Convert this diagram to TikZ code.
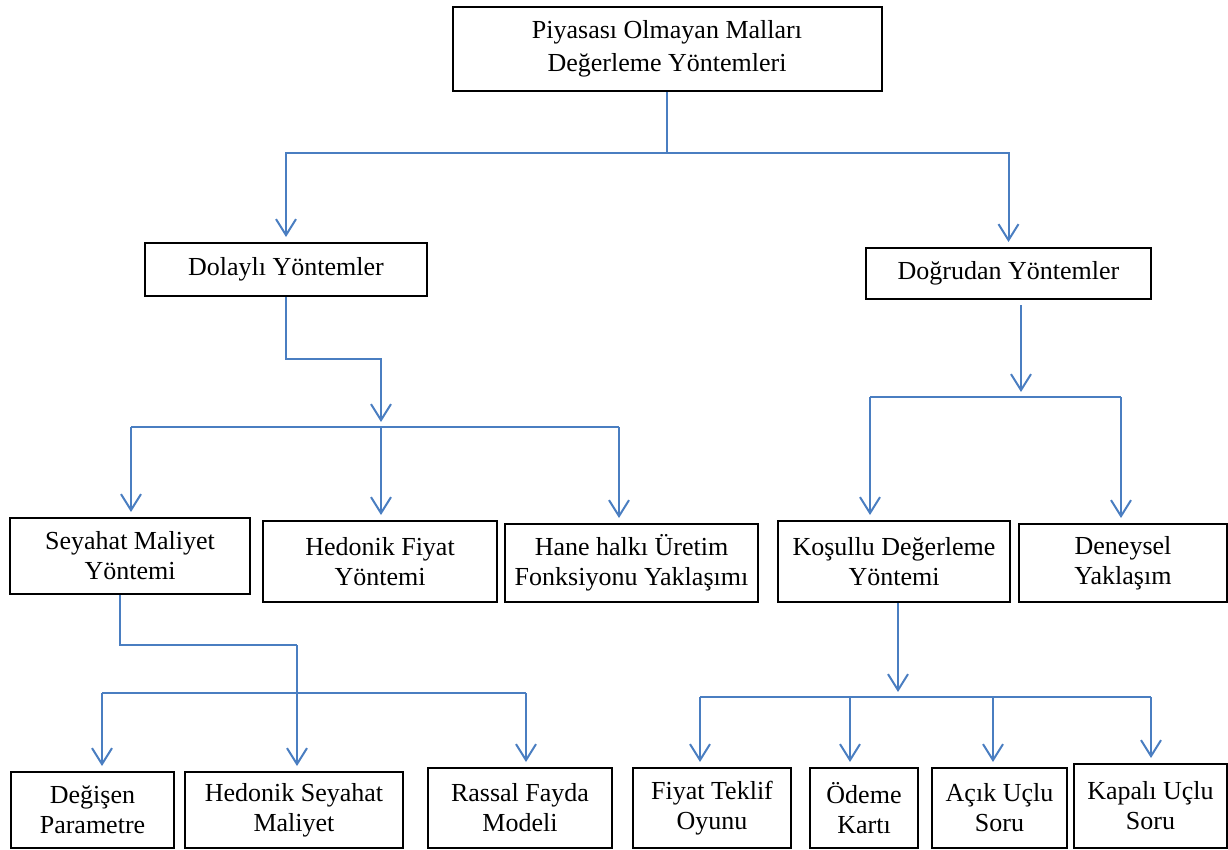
\documentclass[tikz,border=0pt]{standalone}
\usepackage{fontspec}
\setmainfont{Liberation Serif}
\usetikzlibrary{arrows.meta,positioning,calc}
\definecolor{linkblue}{RGB}{74,126,193}

\begin{document}
\begin{tikzpicture}
[x=1pt,y=-1pt,
every node/.style={draw,line width=2pt,align=center,inner sep=0pt,font=\fontsize{26}{30}\selectfont},
link/.style={draw=linkblue,line width=2pt},
arrow/.style={link,-{Straight Barb[length=16pt,width=20pt]},shorten >=5pt}]
\useasboundingbox (0,0) rectangle (1228,849);
\node[minimum width=429pt,minimum height=84pt,font=\fontsize{26}{33}\selectfont] (root) at (667,49) {Piyasası Olmayan Malları\\Değerleme Yöntemleri};
\node[minimum width=282pt,minimum height=53pt] (dolayli) at (286,269.5) {Dolaylı Yöntemler};
\node[minimum width=285pt,minimum height=51pt] (dogrudan) at (1008.5,273.5) {Doğrudan Yöntemler};
\node[minimum width=240pt,minimum height=76pt] (seyahat) at (130,556) {Seyahat Maliyet\\Yöntemi};
\node[minimum width=234pt,minimum height=81pt] (hedonik) at (380,561.5) {Hedonik Fiyat\\Yöntemi};
\node[minimum width=253pt,minimum height=78pt] (hane) at (631.5,563) {Hane halkı Üretim\\Fonksiyonu Yaklaşımı};
\node[minimum width=232pt,minimum height=81pt] (kosullu) at (894,561.5) {Koşullu Değerleme\\Yöntemi};
\node[minimum width=208pt,minimum height=78pt] (deneysel) at (1123,563) {Deneysel\\Yaklaşım};
\node[minimum width=163pt,minimum height=76pt] (degisen) at (92.5,810) {Değişen\\Parametre};
\node[minimum width=218pt,minimum height=76pt] (hedseyahat) at (294,810) {Hedonik Seyahat\\Maliyet};
\node[minimum width=184pt,minimum height=80pt] (rassal) at (520,808) {Rassal Fayda\\Modeli};
\node[minimum width=158pt,minimum height=80pt] (fiyat) at (712,808) {Fiyat Teklif\\Oyunu};
\node[minimum width=108pt,minimum height=80pt] (odeme) at (864,808) {Ödeme\\Kartı};
\node[minimum width=135pt,minimum height=80pt] (acik) at (999.5,808) {Açık Uçlu\\Soru};
\node[minimum width=153pt,minimum height=84pt] (kapali) at (1150.5,806) {Kapalı Uçlu\\Soru};

\coordinate (top) at (667,153);
\draw[link] (root.south) -- (top);
\draw[arrow] (top) -| (dolayli.north);
\draw[arrow] (top) -| (dogrudan.north);

\coordinate (dolbend) at (381,359);
\coordinate (dolsplit) at (381,427);
\coordinate (dolleft) at (131,427);
\coordinate (dolright) at (619,427);
\draw[arrow] (dolayli.south) |- (dolbend) -- (dolsplit);
\draw[link] (dolleft) -- (dolright);
\foreach \c/\n in {dolleft/seyahat,dolsplit/hedonik,dolright/hane}
  \draw[arrow] (\c) -- (\c |- \n.north);

\coordinate (dogsplit) at (1021,397);
\coordinate (dogleft) at (870,397);
\coordinate (dogright) at (1121,397);
\draw[arrow] ([yshift=-5pt]dogsplit |- dogrudan.south) -- (dogsplit);
\draw[link] (dogleft) -- (dogright);
\foreach \c/\n in {dogleft/kosullu,dogright/deneysel}
  \draw[arrow] (\c) -- (\c |- \n.north);

\coordinate (seybend) at (297,645);
\coordinate (seyleft) at (102,693);
\coordinate (seyright) at (526,693);
\draw[link] ([xshift=-10pt]seyahat.south) |- (seybend);
\draw[link] (seyleft) -- (seyright);
\foreach \c/\n in {seyleft/degisen,seybend/hedseyahat,seyright/rassal}
  \draw[arrow] (\c) -- (\c |- \n.north);

\coordinate (kossplit) at (898,697);
\coordinate (kos1) at (700,697);
\coordinate (kos2) at (850,697);
\coordinate (kos3) at (993,697);
\coordinate (kos4) at (1151,697);
\draw[arrow] (kossplit |- kosullu.south) -- (kossplit);
\draw[link] (kos1) -- (kos4);
\foreach \c/\n in {kos1/fiyat,kos2/odeme,kos3/acik,kos4/kapali}
  \draw[arrow] (\c) -- (\c |- \n.north);
\end{tikzpicture}
\end{document}
